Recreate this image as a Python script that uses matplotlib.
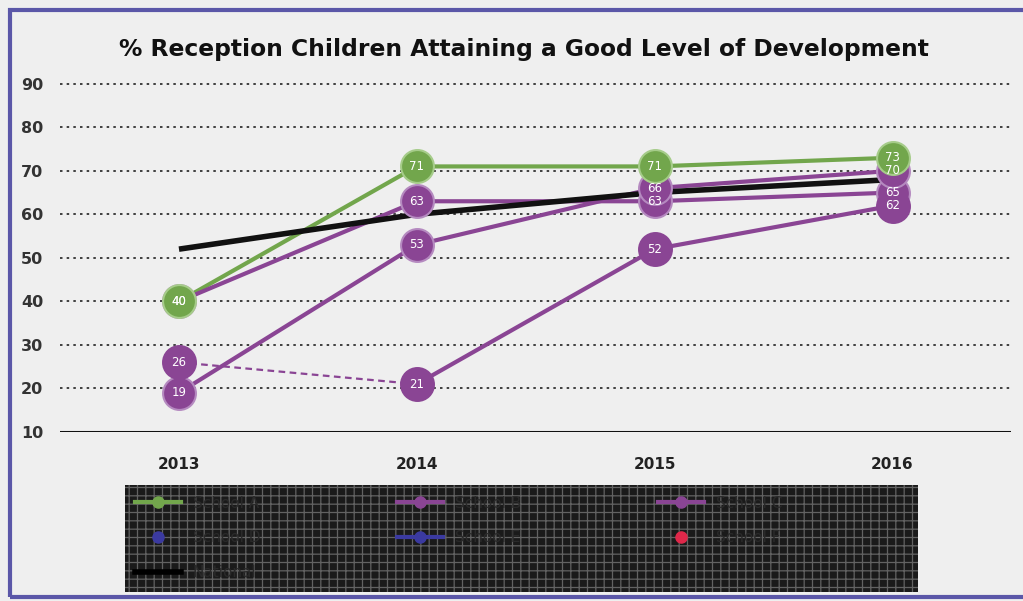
import matplotlib
matplotlib.use('Agg')
import matplotlib.pyplot as plt
from matplotlib.patches import Rectangle
from matplotlib.lines import Line2D
import numpy as np

# ── Data ────────────────────────────────────────────────────────────────
YEARS = ['2013', '2014', '2015', '2016']
GREEN_VALS = [40, 71, 71, 73]
PURPLE_A = [40, 63, 63, 65]
PURPLE_B = [19, 53, 66, 70]
PURPLE_C = [26, 21, 52, 62]
NATIONAL = [52, 60, 65, 68]

LEGEND_LABELS = ['School A', 'School D', 'National',
                 'School B', 'School E',
                 'School C', 'School F']
Y_TICKS = [10, 20, 30, 40, 50, 60, 70, 80, 90]

GREEN = '#72a64c'
PURPLE = '#8a4594'
BLUE = '#3b3aa0'
RED = '#e0284a'
BORDER = '#5b57a8'

fig = plt.figure(figsize=(10.23, 6.01), dpi=100)
fig.patch.set_facecolor('#efefef')
ax = fig.add_axes([0.0587, 0.2812, 0.930, 0.594])
ax.set_facecolor('#efefef')

x = np.arange(len(YEARS))

# lines
ax.plot(x, GREEN_VALS, color=GREEN, lw=3, zorder=2)
ax.plot(x, PURPLE_A, color=PURPLE, lw=3, zorder=2.1)
ax.plot(x, PURPLE_B, color=PURPLE, lw=3, zorder=2.1)
ax.plot(x[:2], PURPLE_C[:2], color=PURPLE, lw=1.6, ls=(0, (3, 2)), zorder=2.1)
ax.plot(x[1:], PURPLE_C[1:], color=PURPLE, lw=3, zorder=2.1)
ax.plot(x, NATIONAL, color='#111111', lw=4, zorder=3, solid_capstyle='butt')

# markers with value labels
def dots(vals, color, edge):
    ax.scatter(x, vals, s=560, color=color, edgecolor=edge, lw=1.5, zorder=4)
    for xi, v in zip(x, vals):
        ax.text(xi, v, str(v), color='white', fontsize=8.5,
                ha='center', va='center', zorder=5)

dots(PURPLE_A, PURPLE, '#b58ac0')
dots(PURPLE_B, PURPLE, '#b58ac0')
dots(PURPLE_C, PURPLE, PURPLE)
dots(GREEN_VALS, GREEN, '#a6cc8a')

# axes styling
ax.set_xlim(-0.5, 3.5)
ax.set_ylim(10, 92)
ax.set_yticks(Y_TICKS)
ax.set_yticklabels([str(t) for t in Y_TICKS], fontsize=11.5, fontweight='bold',
                   color='#333333')
ax.set_xticks(x)
ax.set_xticklabels(YEARS, fontsize=11, fontweight='bold', color='#222222')
ax.tick_params(length=0)
ax.tick_params(axis='y', pad=12)
ax.tick_params(axis='x', pad=18)
for t in Y_TICKS[1:]:
    ax.axhline(t, color='#222222', lw=1.2, ls=(0, (1.5, 2.5)), zorder=1)
ax.axhline(10, color='#111111', lw=2.2, zorder=1)
for s in ax.spines.values():
    s.set_visible(False)

fig.text(0.512, 0.918, '% Reception Children Attaining a Good Level of Development',
         ha='center', va='center', fontsize=16.8, fontweight='bold',
         color='#111111')

# legend over a dark, cross-hatched (redacted) band
plt.rcParams['hatch.linewidth'] = 0.9
band = Rectangle((125 / 1023, 1 - 592 / 601), (918 - 125) / 1023, 107 / 601,
                 transform=fig.transFigure, facecolor='#1a1a1a',
                 edgecolor='#626262', hatch='++', lw=0, zorder=1)
fig.add_artist(band)

handles = [
    Line2D([], [], color=GREEN, lw=3, marker='o', ms=8),
    Line2D([], [], color=BLUE, lw=0, marker='o', ms=8),
    Line2D([], [], color='#000000', lw=4),
    Line2D([], [], color=PURPLE, lw=3, marker='o', ms=8),
    Line2D([], [], color=BLUE, lw=3, marker='o', ms=8),
    Line2D([], [], color=PURPLE, lw=3, marker='o', ms=8),
    Line2D([], [], color=RED, lw=0, marker='o', ms=8),
]
leg = fig.legend(handles, LEGEND_LABELS, ncol=3, loc='upper left',
                 bbox_to_anchor=(121 / 1023, 1 - 482 / 601),
                 frameon=False, fontsize=11, handlelength=3,
                 columnspacing=8.95, labelspacing=1.28,
                 labelcolor='#2a2a2a')

# outer border of the scanned page
fig.add_artist(Rectangle((10 / 1023, 4 / 601), 1.0, 1 - 14 / 601,
                         transform=fig.transFigure, fill=False,
                         edgecolor=BORDER, lw=3, zorder=10))

fig.savefig('out.png', dpi=100, facecolor=fig.get_facecolor())
